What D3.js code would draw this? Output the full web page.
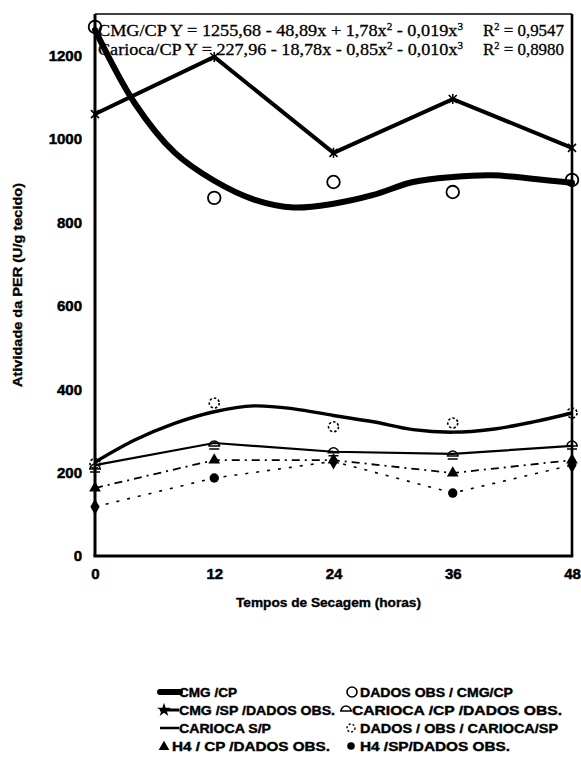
<!DOCTYPE html>
<html>
<head>
<meta charset="utf-8">
<script src="https://cdn.jsdelivr.net/npm/d3@7"></script>
<style>
  html, body { margin: 0; padding: 0; background: #fff; }
  svg { display: block; }
</style>
</head>
<body>
<svg id="chart" width="581" height="765"></svg>
<script>
// ---------------- data ----------------
const hours = [0, 12, 24, 36, 48];
const xTicks = [0, 12, 24, 36, 48];
const yTicks = [0, 200, 400, 600, 800, 1000, 1200];

// fitted curves, sampled by eye along the drawn curve
const fitHours = [0, 4, 8, 12, 16, 20, 24, 28, 32, 36, 40, 44, 48];
const cmgCpFit = [1262, 1086, 968, 900, 855, 836, 845, 866, 897, 909, 913, 905, 895];
const cariocaCpFit = [225, 278, 318, 346, 360, 353, 337, 322, 303, 297, 304, 321, 343];

// observed series
const cmgCpObs = [1269, 859, 897, 873, 902];
const cmgSp = [1060, 1197, 967, 1096, 979];
const cariocaSp = [218, 271, 250, 245, 264];
const cariocaCpObs = [211, 266, 250, 242, 266];
const cariocaSpObs = [222, 367, 310, 319, 343];
const h4Cp = [163, 230, 230, 199, 230];
const h4Sp = [118, 187, 227, 151, 218];
const h4SpShape = ["diamond", "circle", "diamond", "circle", "diamond"];

const eq1 = { label: "CMG/CP", text: "Y = 1255,68 - 48,89x + 1,78x", t2: " - 0,019x", r2: "0,9547" };
const eq2 = { label: "Carioca/CP", text: "Y = 227,96 - 18,78x - 0,85x", t2: " - 0,010x", r2: "0,8980" };

const legendLeft = ["CMG /CP", "CMG /SP /DADOS OBS.", "CARIOCA S/P", "H4 / CP /DADOS OBS."];
const legendRight = ["DADOS OBS / CMG/CP", "CARIOCA /CP /DADOS OBS.", "DADOS / OBS / CARIOCA/SP", "H4 /SP/DADOS OBS."];

const xTitle = "Tempos de Secagem (horas)";
const yTitle = "Atividade da PER (U/g tecido)";

// ---------------- drawing ----------------
const svg = d3.select("#chart");
const x = d3.scaleLinear().domain([0, 48]).range([95, 572]);
const y = d3.scaleLinear().domain([0, 1300]).range([556, 14]);
const sans = "'Liberation Sans', Arial, sans-serif";
const serif = "'Liberation Serif', 'Times New Roman', serif";

// frame
const g = svg.append("g");
g.append("line").attr("x1", x(0)).attr("x2", x(48)).attr("y1", y(1300)).attr("y2", y(1300))
  .attr("stroke", "#000").attr("stroke-width", 1.6);
g.append("line").attr("x1", x(48)).attr("x2", x(48)).attr("y1", y(1300)).attr("y2", y(0))
  .attr("stroke", "#000").attr("stroke-width", 2.6);

// axes
const yAxis = d3.axisLeft(y).tickValues(yTicks).tickSize(0).tickPadding(13).tickFormat(d3.format("d"));
const ya = svg.append("g").attr("transform", `translate(${x(0)},0)`).call(yAxis);
ya.select(".domain").remove();
ya.selectAll("text").attr("font-family", sans).attr("font-weight", "bold")
  .attr("font-size", 15).attr("fill", "#000").attr("stroke", "#000").attr("stroke-width", 0.5);

const xAxis = d3.axisBottom(x).tickValues(xTicks).tickSize(0).tickPadding(12).tickFormat(d3.format("d"));
const xa = svg.append("g").attr("transform", `translate(0,${y(0)})`).call(xAxis);
xa.select(".domain").remove();
xa.selectAll("text").attr("font-family", sans).attr("font-weight", "bold")
  .attr("font-size", 15).attr("fill", "#000").attr("stroke", "#000").attr("stroke-width", 0.5);

svg.append("line").attr("x1", x(0)).attr("x2", x(0)).attr("y1", y(1300)).attr("y2", y(0))
  .attr("stroke", "#000").attr("stroke-width", 3);
svg.append("line").attr("x1", x(0) - 1.5).attr("x2", x(48) + 1.3).attr("y1", y(0)).attr("y2", y(0))
  .attr("stroke", "#000").attr("stroke-width", 3);

// axis titles
svg.append("text").attr("x", (x(0) + x(48)) / 2 - 5).attr("y", 607)
  .attr("text-anchor", "middle").attr("font-family", sans).attr("font-weight", "bold")
  .attr("font-size", 12.5).attr("textLength", 185).attr("lengthAdjust", "spacingAndGlyphs")
  .attr("stroke", "#000").attr("stroke-width", 0.35)
  .text(xTitle);
svg.append("text").attr("transform", "translate(22,285) rotate(-90)")
  .attr("text-anchor", "middle").attr("font-family", sans).attr("font-weight", "bold")
  .attr("font-size", 12.5).attr("textLength", 204).attr("lengthAdjust", "spacingAndGlyphs")
  .attr("stroke", "#000").attr("stroke-width", 0.35)
  .text(yTitle);

// line generators
const smooth = d3.line().x((d, i) => x(fitHours[i])).y(d => y(d)).curve(d3.curveCatmullRom.alpha(0.5));
const straight = d3.line().x((d, i) => x(hours[i])).y(d => y(d));

// lower group
svg.append("path").attr("d", straight(h4Sp)).attr("fill", "none").attr("stroke", "#000")
  .attr("stroke-width", 1.6).attr("stroke-dasharray", "3,8");
svg.append("path").attr("d", straight(h4Cp)).attr("fill", "none").attr("stroke", "#000")
  .attr("stroke-width", 1.8).attr("stroke-dasharray", "8,5,2,5");
svg.append("path").attr("d", straight(cariocaSp)).attr("fill", "none").attr("stroke", "#000")
  .attr("stroke-width", 2.2);
svg.append("path").attr("d", smooth(cariocaCpFit)).attr("fill", "none").attr("stroke", "#000")
  .attr("stroke-width", 3.4).attr("stroke-linejoin", "round");

// upper group
svg.append("path").attr("d", straight(cmgSp)).attr("fill", "none").attr("stroke", "#000")
  .attr("stroke-width", 4).attr("stroke-linejoin", "miter");
svg.append("path").attr("d", smooth(cmgCpFit)).attr("fill", "none").attr("stroke", "#000")
  .attr("stroke-width", 6).attr("stroke-linecap", "round");

// markers
const capPath = "M-5,1A5,5 0 0 1 5,1M-6,1L6,1M-5,4L5,4";
const xPath = "M-4,-4L4,4M-4,4L4,-4M0,-5L0,5";

svg.append("g").selectAll("path").data(cmgSp).join("path")
  .attr("transform", (d, i) => `translate(${x(hours[i])},${y(d)})`)
  .attr("d", xPath).attr("fill", "none").attr("stroke", "#000").attr("stroke-width", 1.6);

svg.append("g").selectAll("circle").data(cmgCpObs).join("circle")
  .attr("cx", (d, i) => x(hours[i])).attr("cy", d => y(d)).attr("r", 6.3)
  .attr("fill", "none").attr("stroke", "#000").attr("stroke-width", 1.8);

svg.append("g").selectAll("circle").data(cariocaSpObs).join("circle")
  .attr("cx", (d, i) => x(hours[i])).attr("cy", d => y(d)).attr("r", 5)
  .attr("fill", "none").attr("stroke", "#000").attr("stroke-width", 1.6).attr("stroke-dasharray", "2.5,2");

svg.append("g").selectAll("path").data(cariocaCpObs).join("path")
  .attr("transform", (d, i) => `translate(${x(hours[i])},${y(d)})`)
  .attr("d", capPath).attr("fill", "none").attr("stroke", "#000").attr("stroke-width", 1.5);

const tri = d3.symbol().type(d3.symbolTriangle).size(60);
svg.append("g").selectAll("path").data(h4Cp).join("path")
  .attr("transform", (d, i) => `translate(${x(hours[i])},${y(d)})`)
  .attr("d", tri).attr("fill", "#000");

svg.append("g").selectAll("path").data(h4Sp).join("path")
  .attr("transform", (d, i) => `translate(${x(hours[i])},${y(d)})`)
  .attr("d", (d, i) => d3.symbol().type(h4SpShape[i] === "diamond" ? d3.symbolDiamond : d3.symbolCircle)
    .size(h4SpShape[i] === "diamond" ? 75 : 70)())
  .attr("fill", "#000");

// equations
function equation(e, yb) {
  const t = svg.append("text").attr("x", 98).attr("y", yb).attr("font-family", serif)
    .attr("font-size", 16.5).attr("fill", "#000").attr("stroke", "#000").attr("stroke-width", 0.3)
    .attr("textLength", 365).attr("lengthAdjust", "spacingAndGlyphs");
  t.append("tspan").text(e.label + " " + e.text);
  t.append("tspan").attr("font-size", 10).attr("dy", -6).text("2");
  t.append("tspan").attr("dy", 6).text(e.t2);
  t.append("tspan").attr("font-size", 10).attr("dy", -6).text("3");
  const r = svg.append("text").attr("x", 483).attr("y", yb).attr("font-family", serif)
    .attr("font-size", 16.5).attr("fill", "#000").attr("stroke", "#000").attr("stroke-width", 0.3)
    .attr("textLength", 81).attr("lengthAdjust", "spacingAndGlyphs");
  r.append("tspan").text("R");
  r.append("tspan").attr("font-size", 10).attr("dy", -6).text("2");
  r.append("tspan").attr("dy", 6).text(" = " + e.r2);
}
equation(eq1, 36);
equation(eq2, 55);

// legend
const rowY = [692, 710, 728, 746];
const lg = svg.append("g").attr("font-family", sans).attr("font-weight", "bold").attr("font-size", 12.5);
const leftW = [58, 156, 92, 158];
const rightW = [153, 210, 198, 150];
legendLeft.forEach((s, i) => {
  lg.append("text").attr("x", i === 3 ? 172 : 179).attr("y", rowY[i]).attr("dy", "0.36em")
    .attr("stroke", "#000").attr("stroke-width", 0.4)
    .attr("textLength", leftW[i]).attr("lengthAdjust", "spacingAndGlyphs").text(s);
});
legendRight.forEach((s, i) => {
  lg.append("text").attr("x", i === 1 ? 352 : 360).attr("y", rowY[i]).attr("dy", "0.36em")
    .attr("stroke", "#000").attr("stroke-width", 0.4)
    .attr("textLength", rightW[i]).attr("lengthAdjust", "spacingAndGlyphs").text(s);
});
// legend symbols
lg.append("line").attr("x1", 160).attr("x2", 180).attr("y1", rowY[0]).attr("y2", rowY[0])
  .attr("stroke", "#000").attr("stroke-width", 6).attr("stroke-linecap", "round");
lg.append("line").attr("x1", 160).attr("x2", 179).attr("y1", rowY[1]).attr("y2", rowY[1])
  .attr("stroke", "#000").attr("stroke-width", 3);
lg.append("path").attr("transform", `translate(164,${rowY[1]})`)
  .attr("d", d3.symbol().type(d3.symbolStar).size(60)).attr("fill", "#000");
lg.append("line").attr("x1", 160).attr("x2", 179).attr("y1", rowY[2]).attr("y2", rowY[2])
  .attr("stroke", "#000").attr("stroke-width", 2.5);
lg.append("path").attr("transform", `translate(164,${rowY[3] + 1})`)
  .attr("d", d3.symbol().type(d3.symbolTriangle).size(50)).attr("fill", "#000");
lg.append("circle").attr("cx", 352).attr("cy", rowY[0]).attr("r", 5)
  .attr("fill", "none").attr("stroke", "#000").attr("stroke-width", 1.6);
lg.append("path").attr("transform", `translate(346,${rowY[1] + 1})`)
  .attr("d", "M-5,0A5,5 0 0 1 5,0M-6,0L6,0").attr("fill", "none").attr("stroke", "#000").attr("stroke-width", 1.5);
lg.append("circle").attr("cx", 351).attr("cy", rowY[2]).attr("r", 4)
  .attr("fill", "none").attr("stroke", "#000").attr("stroke-width", 1.4).attr("stroke-dasharray", "2,2");
lg.append("circle").attr("cx", 351).attr("cy", rowY[3]).attr("r", 3.8).attr("fill", "#000");
</script>
</body>
</html>
